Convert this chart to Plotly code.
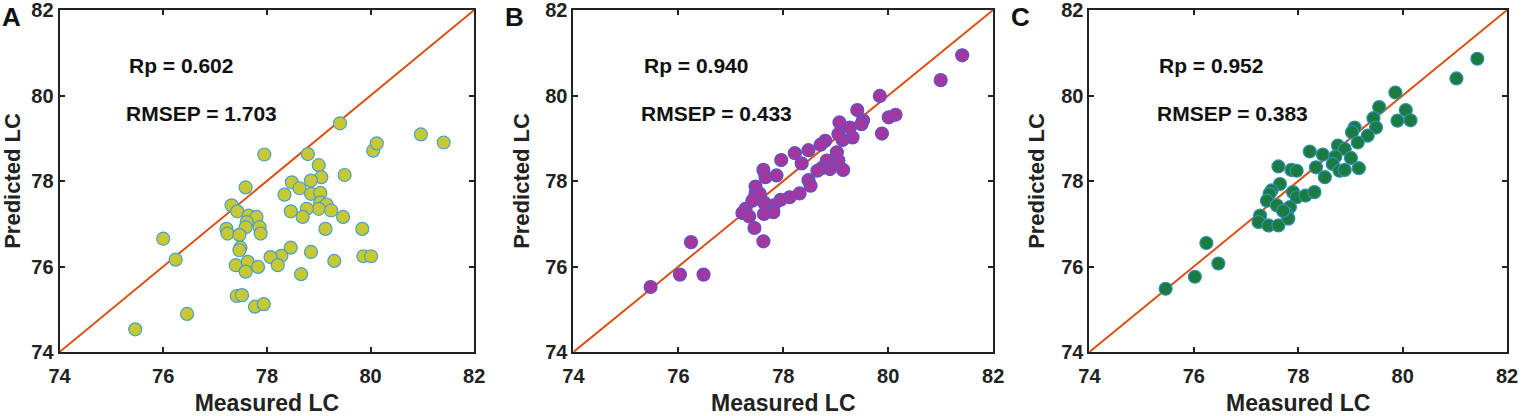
import plotly.graph_objects as go
from plotly.subplots import make_subplots

# panel A - measured vs predicted
a_meas = [75.46, 76.46, 76.0, 76.24, 79.41, 80.97, 81.41, 80.05, 80.12, 77.95,
          78.79, 79.0, 79.5, 79.05, 78.85, 78.48, 78.63, 78.34, 78.85, 79.03,
          79.03, 79.15, 79.0, 79.24, 78.77, 78.69, 78.46, 79.47, 77.59, 77.32,
          77.43, 77.65, 77.8, 77.61, 77.59, 77.22, 77.24, 77.47, 77.86, 77.88,
          79.13, 79.84, 77.49, 77.47, 78.46, 78.28, 78.07, 78.21, 78.85, 79.86,
          80.01, 79.3, 77.4, 77.63, 77.59, 77.83, 78.66, 77.42, 77.52, 77.77, 77.94]
a_pred = [74.53, 74.89, 76.65, 76.16, 79.35, 79.09, 78.9, 78.71, 78.88, 78.62,
          78.63, 78.37, 78.14, 78.09, 78.01, 77.97, 77.83, 77.68, 77.70, 77.72,
          77.5, 77.45, 77.35, 77.31, 77.35, 77.16, 77.29, 77.16, 77.85, 77.43,
          77.29, 77.19, 77.16, 77.04, 76.92, 76.88, 76.77, 76.74, 76.92, 76.77,
          76.88, 76.88, 76.44, 76.38, 76.44, 76.25, 76.22, 76.03, 76.34, 76.24,
          76.24, 76.13, 76.03, 76.11, 75.88, 75.99, 75.82, 75.31, 75.33, 75.06, 75.12]

# panel B
b_meas = [75.47, 76.03, 76.48, 76.24, 81.0, 81.41, 79.84, 79.41, 80.01, 80.14,
          79.88, 79.52, 79.49, 79.07, 79.32, 79.13, 79.27, 79.05, 78.8, 78.71,
          78.48, 78.22, 79.02, 79.05, 79.14, 78.83, 78.89, 78.73, 78.65, 78.35,
          77.96, 78.48, 78.52, 78.31, 78.12, 77.95, 77.87, 77.62, 77.66, 77.47,
          77.47, 77.82, 77.63, 77.81, 77.63, 77.28, 77.22, 77.35, 77.45, 77.62,
          77.55, 77.41]
b_pred = [75.52, 75.81, 75.81, 76.57, 80.36, 80.94, 79.99, 79.66, 79.49, 79.55,
          79.11, 79.42, 79.33, 79.37, 79.02, 78.96, 79.25, 79.1, 78.94, 78.85,
          78.72, 78.65, 78.67, 78.48, 78.26, 78.48, 78.28, 78.3, 78.24, 78.41,
          78.49, 78.02, 77.89, 77.71, 77.62, 77.56, 78.13, 78.26, 78.09, 77.87,
          77.7, 77.43, 77.5, 77.27, 77.23, 77.35, 77.25, 77.17, 76.9, 76.59,
          77.7, 77.54]

# panel C
c_meas = [75.46, 76.02, 76.24, 76.47, 81.03, 81.43, 79.86, 79.55, 80.06, 80.15,
          79.9, 79.44, 79.49, 79.08, 79.03, 79.33, 79.14, 78.76, 78.89, 78.22,
          78.47, 78.71, 79.01, 78.34, 78.51, 78.66, 78.79, 78.89, 79.16, 77.62,
          77.87, 77.97, 77.65, 77.49, 77.45, 77.9, 77.97, 78.14, 78.31, 77.4,
          77.59, 77.84, 77.78, 77.27, 77.24, 77.43, 77.62, 77.81, 77.71]
c_pred = [75.48, 75.76, 76.55, 76.07, 80.4, 80.86, 80.07, 79.73, 79.66, 79.42,
          79.41, 79.47, 79.25, 79.25, 79.14, 79.06, 78.9, 78.83, 78.75, 78.69,
          78.62, 78.57, 78.54, 78.32, 78.09, 78.4, 78.24, 78.26, 78.3, 78.34,
          78.26, 78.24, 77.93, 77.78, 77.7, 77.74, 77.62, 77.66, 77.74, 77.54,
          77.43, 77.39, 77.23, 77.19, 77.04, 76.96, 76.96, 77.12, 77.3]

ticks = [74, 76, 78, 80, 82]
panel_labels = ["A", "B", "C"]
rp_vals = ["0.602", "0.940", "0.952"]
rmsep_vals = ["1.703", "0.433", "0.383"]

fill_cols = ["#c6c834", "#a4379f", "#1c7c3f"]
edge_cols = ["#4aa0c8", "#5a55c8", "#2f8fb8"]

fig = make_subplots(rows=1, cols=3)
fnt = "Liberation Sans"
W = 1531
x_domains = [(60 / W, 478 / W), (578 / W, 1001 / W), (1098 / W, 1519 / W)]
label_x = [0 / W, 507 / W, 1017 / W]
data = [(a_meas, a_pred), (b_meas, b_pred), (c_meas, c_pred)]

for i, (xs, ys) in enumerate(data):
    col = i + 1
    fig.add_trace(go.Scatter(x=[74, 82], y=[74, 82], mode="lines",
                             line=dict(color="#d95319", width=2), showlegend=False),
                  row=1, col=col)
    fig.add_trace(go.Scatter(x=xs, y=ys, mode="markers", showlegend=False,
                             marker=dict(size=13, color=fill_cols[i],
                                         line=dict(color=edge_cols[i], width=1.2))),
                  row=1, col=col)
    ax = dict(range=[74, 82], tickvals=ticks, ticks="inside", ticklen=5, tickwidth=2,
              tickcolor="#222", showline=True, linecolor="#222", linewidth=2,
              mirror="ticks", showgrid=False, zeroline=False, ticklabeloverflow="allow",
              automargin=False,
              tickfont=dict(family=fnt, size=20, color="#222", weight="bold"))
    fig.update_xaxes(ax, domain=x_domains[i], ticklabelstandoff=5,
                     title=dict(text="Measured LC", standoff=10,
                                font=dict(family=fnt, size=23, color="#222", weight="bold")),
                     row=1, col=col)
    fig.update_yaxes(ax, title=dict(text="Predicted LC", standoff=10,
                                    font=dict(family=fnt, size=22, color="#222", weight="bold")),
                     row=1, col=col)
    xref = "x" if i == 0 else "x%d" % col
    yref = "y" if i == 0 else "y%d" % col
    fig.add_annotation(x=75.3, y=80.7, xref=xref, yref=yref, text="Rp = " + rp_vals[i],
                       showarrow=False, xanchor="left",
                       font=dict(family=fnt, size=21, color="#111", weight="bold"))
    fig.add_annotation(x=75.25, y=79.58, xref=xref, yref=yref, text="RMSEP = " + rmsep_vals[i],
                       showarrow=False, xanchor="left",
                       font=dict(family=fnt, size=21, color="#111", weight="bold"))
    fig.add_annotation(x=label_x[i], y=1.029, xref="paper", yref="paper",
                       text=panel_labels[i], showarrow=False,
                       xanchor="left", yanchor="top",
                       font=dict(family=fnt, size=26, color="#111", weight="bold"))

fig.update_layout(width=W, height=416, plot_bgcolor="white", paper_bgcolor="white",
                  margin=dict(l=0, r=12, t=10, b=64))
# the page body has an 8px margin by default; drop it so the figure sits at 0,0
fig.write_html("out.html", config={"displayModeBar": False},
               post_script="document.body.style.margin='0';")
